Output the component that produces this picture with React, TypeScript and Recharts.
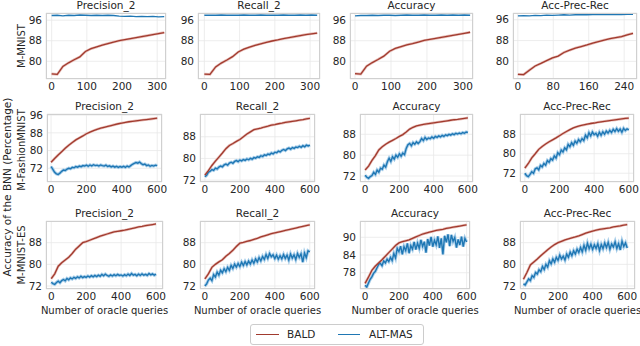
import React from 'react';
import { LineChart, Line, XAxis, YAxis, CartesianGrid } from 'recharts';

const FONT = '"DejaVu Sans", sans-serif';
const RED = '#a13a2e';
const RED_HALO = '#e6bcb6';
const BLUE = '#1f77b4';
const BLUE_HALO = '#aacfea';
const TXT = '#262626';

// ---------- x categories ----------
const X320 = [0, 16, 32, 48, 64, 80, 96, 112, 128, 144, 160, 176, 192, 208, 224, 240, 256, 272, 288, 304, 320];
const X260 = [0, 13, 26, 39, 52, 65, 78, 91, 104, 117, 130, 143, 156, 169, 182, 195, 208, 221, 234, 247, 260];
const X600R = [0, 20, 40, 60, 80, 100, 120, 140, 160, 180, 200, 220, 240, 260, 280, 300, 320, 340, 360, 380, 400, 420, 440, 460, 480, 500, 520, 540, 560, 580, 600];
const X600B = [0, 10, 20, 30, 40, 50, 60, 70, 80, 90, 100, 110, 120, 130, 140, 150, 160, 170, 180, 190, 200, 210, 220, 230, 240, 250, 260, 270, 280, 290, 300, 310, 320, 330, 340, 350, 360, 370, 380, 390, 400, 410, 420, 430, 440, 450, 460, 470, 480, 490, 500, 510, 520, 530, 540, 550, 560, 570, 580, 590, 600];

// ---------- tick labels ----------
const XT_300 = [0, 100, 200, 300];
const XT_240 = [0, 80, 160, 240];
const XT_600 = [0, 200, 400, 600];
const YT_ROW1 = [80, 88, 96];
const YT_FP = [72, 80, 88, 96];
const YT_STD = [72, 80, 88];
const YT_ACC3 = [78, 84, 90];

// ---------- titles ----------
const TITLES = ['Precision_2', 'Recall_2', 'Accuracy', 'Acc-Prec-Rec'];
const ROWS = ['M-MNIST', 'M-FashionMNIST', 'M-MNIST-ES'];
const SERIES = ['BALD', 'ALT-MAS'];

// ---------- Row 1: M-MNIST ----------
const m_prec_bald = [75.1, 74.9, 78.0, 79.4, 80.6, 81.7, 83.8, 84.9, 85.6, 86.3, 86.9, 87.5, 88.0, 88.4, 88.8, 89.2, 89.6, 90.0, 90.4, 90.8, 91.2];
const m_prec_alt = [97.8, 97.9, 97.7, 97.9, 97.8, 98.0, 97.9, 97.8, 97.9, 97.8, 97.9, 97.8, 97.6, 97.5, 97.6, 97.4, 97.5, 97.4, 97.5, 97.3, 97.4];
const m_rec_bald = [75.0, 74.9, 77.8, 79.3, 80.5, 81.8, 83.6, 84.7, 85.5, 86.2, 86.8, 87.4, 87.9, 88.3, 88.8, 89.2, 89.6, 90.0, 90.4, 90.7, 91.0];
const m_rec_alt = [97.9, 97.9, 97.9, 98.0, 97.9, 97.9, 97.9, 98.0, 97.9, 97.9, 98.0, 97.9, 97.9, 97.9, 98.0, 97.9, 97.9, 98.0, 97.9, 98.0, 97.9];
const m_acc_bald = [75.2, 75.0, 78.1, 79.5, 80.7, 82.0, 83.9, 85.0, 85.7, 86.4, 86.9, 87.5, 88.1, 88.5, 88.9, 89.3, 89.7, 90.1, 90.5, 90.9, 91.3];
const m_acc_alt = [97.7, 97.8, 97.8, 97.9, 97.8, 97.9, 97.9, 97.8, 97.9, 98.0, 97.9, 97.9, 98.0, 97.9, 97.9, 98.0, 97.9, 98.0, 97.9, 98.0, 97.9];
const m_apr_bald = [75.0, 74.9, 76.6, 78.2, 79.2, 80.3, 81.3, 82.0, 83.4, 84.3, 85.1, 85.7, 86.3, 87.0, 87.6, 88.2, 88.7, 89.1, 89.5, 90.2, 90.8];
const m_apr_alt = [97.5, 97.6, 97.5, 97.7, 97.6, 97.8, 97.7, 97.8, 97.9, 97.8, 97.9, 98.0, 97.9, 98.0, 98.0, 98.1, 98.0, 98.1, 98.0, 98.1, 98.1];

// ---------- Row 2: M-FashionMNIST ----------
const f_prec_bald = [74.7, 76.4, 78.0, 79.5, 81.0, 82.4, 83.6, 84.8, 85.7, 86.6, 87.6, 88.3, 89.0, 89.6, 90.1, 90.5, 90.9, 91.3, 91.7, 92.1, 92.4, 92.7, 93.0, 93.2, 93.4, 93.6, 93.8, 94.0, 94.2, 94.4, 94.6];
const f_prec_alt = [72.8, 71.5, 70.2, 69.5, 69.2, 69.8, 70.6, 71.2, 71.0, 71.6, 72.0, 71.8, 72.4, 72.2, 72.8, 72.5, 73.0, 72.7, 73.2, 73.0, 73.4, 72.9, 73.5, 73.1, 73.6, 73.2, 73.4, 73.0, 73.5, 73.2, 73.0, 73.4, 72.8, 73.1, 72.6, 73.0, 72.5, 72.9, 72.4, 72.8, 72.5, 72.9, 72.4, 73.0, 72.6, 73.2, 73.8, 74.2, 74.6, 74.3, 74.8, 74.1, 73.6, 73.9, 73.2, 73.5, 72.9, 73.3, 73.0, 73.4, 73.2];
const f_rec_bald = [73.8, 75.5, 77.4, 79.0, 80.5, 82.0, 83.6, 84.8, 85.5, 86.3, 87.0, 88.0, 89.0, 89.8, 90.6, 90.9, 91.2, 91.6, 91.9, 92.3, 92.5, 92.8, 93.0, 93.3, 93.5, 93.7, 93.9, 94.1, 94.3, 94.6, 94.8];
const f_rec_alt = [73.2, 73.8, 74.9, 75.3, 75.9, 75.6, 76.4, 76.1, 76.8, 77.2, 76.9, 77.6, 77.9, 77.5, 78.3, 78.6, 78.2, 78.9, 79.2, 78.8, 79.4, 79.1, 79.6, 79.3, 79.8, 79.5, 80.0, 79.7, 80.3, 80.1, 80.6, 80.4, 81.0, 80.7, 81.3, 81.1, 81.6, 81.4, 82.0, 81.7, 82.3, 82.1, 82.7, 82.4, 83.0, 83.3, 82.9, 83.5, 83.8, 83.4, 84.0, 83.7, 84.2, 84.0, 84.5, 84.1, 84.7, 84.3, 84.9, 84.6, 84.9];
const f_acc_bald = [74.3, 75.8, 78.0, 79.8, 82.0, 83.2, 84.2, 85.0, 85.7, 86.4, 87.2, 87.9, 88.9, 90.0, 90.7, 91.2, 91.5, 91.8, 92.0, 92.2, 92.4, 92.6, 92.8, 93.0, 93.2, 93.4, 93.6, 93.7, 93.9, 94.1, 94.3];
const f_acc_alt = [72.3, 71.5, 71.1, 71.8, 72.2, 73.4, 72.6, 74.3, 73.5, 75.0, 74.6, 76.2, 75.4, 77.5, 78.8, 77.6, 79.4, 78.5, 80.0, 79.2, 80.5, 79.6, 80.8, 80.2, 82.6, 84.0, 84.5, 83.6, 84.8, 84.2, 85.1, 84.5, 85.2, 86.4, 85.6, 86.8, 86.0, 86.6, 86.3, 87.0, 86.5, 87.2, 86.8, 87.4, 87.0, 87.6, 87.2, 87.8, 87.5, 88.0, 87.7, 88.2, 87.9, 88.4, 88.1, 88.5, 88.2, 88.7, 88.4, 88.9, 88.7];
const f_apr_bald = [74.1, 76.0, 78.3, 80.0, 81.8, 83.0, 84.0, 84.9, 85.7, 86.5, 87.4, 88.3, 89.1, 89.9, 90.6, 91.1, 91.5, 91.8, 92.1, 92.4, 92.6, 92.9, 93.1, 93.3, 93.5, 93.7, 93.9, 94.1, 94.3, 94.5, 94.6];
const f_apr_alt = [72.0, 71.0, 70.6, 71.5, 72.6, 72.0, 73.8, 74.2, 73.4, 75.2, 74.6, 76.0, 75.3, 77.2, 76.5, 78.0, 77.4, 79.1, 78.2, 80.4, 79.6, 81.5, 80.7, 82.4, 81.6, 83.8, 82.9, 84.5, 83.5, 85.2, 84.3, 85.8, 84.9, 86.2, 85.4, 87.6, 86.5, 88.6, 87.3, 88.9, 87.8, 88.4, 87.2, 88.8, 87.6, 89.0, 88.0, 89.3, 88.5, 89.6, 88.7, 90.0, 89.1, 90.3, 89.2, 90.1, 88.8, 90.4, 89.5, 90.2, 89.8];

// ---------- Row 3: M-MNIST-ES ----------
const e_prec_bald = [74.7, 76.5, 79.3, 80.6, 81.6, 82.6, 84.0, 85.6, 86.8, 88.0, 88.4, 88.9, 89.4, 89.9, 90.4, 90.8, 91.2, 91.6, 92.0, 92.2, 92.4, 92.6, 92.9, 93.2, 93.5, 93.8, 94.0, 94.3, 94.5, 94.7, 94.9];
const e_prec_alt = [73.4, 72.9, 72.6, 73.3, 73.8, 73.2, 74.0, 74.4, 73.9, 74.8, 74.3, 75.0, 74.6, 75.2, 74.8, 75.4, 75.0, 75.6, 75.1, 75.5, 75.2, 75.7, 75.3, 75.8, 75.4, 75.9, 75.5, 76.0, 75.6, 76.3, 75.8, 76.4, 75.9, 75.6, 76.1, 75.7, 76.2, 75.8, 76.3, 75.9, 76.1, 75.7, 76.2, 75.8, 76.4, 75.9, 76.6, 76.0, 76.3, 75.8, 76.4, 75.9, 76.5, 76.0, 76.3, 75.9, 76.6, 76.1, 76.5, 76.0, 76.4];
const e_rec_bald = [74.6, 76.5, 78.9, 80.0, 80.9, 81.7, 83.0, 84.0, 85.2, 86.6, 87.8, 88.1, 88.5, 88.8, 89.2, 89.6, 90.1, 90.5, 90.9, 91.3, 91.6, 91.9, 92.2, 92.5, 92.8, 93.1, 93.4, 93.7, 94.0, 94.3, 94.6];
const e_rec_alt = [72.0, 72.8, 74.2, 74.9, 74.0, 76.2, 75.3, 77.1, 76.0, 77.8, 76.9, 78.4, 77.3, 78.9, 77.8, 79.6, 78.5, 80.1, 79.0, 80.3, 79.2, 80.8, 79.6, 81.0, 79.8, 81.2, 80.1, 81.6, 80.4, 82.0, 80.9, 82.5, 81.3, 82.9, 81.8, 83.6, 82.2, 84.0, 82.8, 83.5, 82.1, 83.4, 81.9, 83.2, 82.0, 83.6, 82.2, 83.4, 81.6, 83.8, 82.3, 83.5, 81.8, 84.0, 82.6, 83.9, 80.8, 84.2, 82.5, 85.0, 84.6];
const e_acc_bald = [74.4, 76.5, 78.8, 80.2, 81.3, 82.4, 83.6, 84.8, 86.0, 87.2, 88.1, 88.5, 88.8, 89.1, 89.6, 90.1, 90.6, 91.1, 91.4, 91.7, 92.0, 92.3, 92.5, 92.7, 93.0, 93.2, 93.4, 93.6, 93.8, 94.0, 94.2];
const e_acc_alt = [73.8, 73.2, 74.5, 75.8, 76.6, 77.8, 78.4, 79.6, 80.8, 81.2, 80.4, 82.0, 81.3, 82.6, 81.8, 83.2, 82.1, 84.5, 83.0, 86.2, 85.1, 87.0, 84.2, 86.8, 85.5, 87.9, 84.6, 87.2, 86.0, 88.4, 85.8, 88.0, 86.3, 89.1, 86.9, 88.5, 84.8, 89.4, 87.2, 90.1, 86.8, 89.0, 87.5, 90.3, 86.4, 89.6, 84.2, 90.5, 88.3, 91.0, 87.0, 90.8, 88.6, 89.9, 86.5, 89.3, 87.4, 90.2, 86.8, 89.6, 88.4];
const e_apr_bald = [74.5, 77.0, 79.8, 80.9, 82.0, 83.2, 84.3, 85.4, 86.4, 87.3, 88.0, 88.5, 89.0, 89.4, 89.8, 90.1, 90.5, 91.0, 91.5, 91.9, 92.3, 92.6, 92.9, 93.1, 93.3, 93.5, 93.8, 94.0, 94.2, 94.5, 94.7];
const e_apr_alt = [72.8, 72.4, 73.5, 74.6, 74.0, 75.8, 75.2, 77.0, 76.4, 78.0, 77.3, 79.2, 78.1, 80.0, 79.0, 81.3, 80.2, 82.0, 80.8, 82.6, 81.5, 83.4, 82.0, 83.0, 81.6, 83.8, 82.6, 84.5, 83.2, 85.0, 83.8, 85.6, 84.4, 86.2, 84.6, 87.0, 85.2, 87.8, 85.8, 87.4, 85.5, 87.2, 85.9, 87.6, 85.1, 87.3, 85.8, 87.9, 86.2, 88.1, 85.6, 87.5, 86.4, 88.3, 85.9, 87.6, 85.3, 88.5, 86.6, 87.9, 86.0];

type PanelCfg = {
  title: string;
  l: number; t: number; r: number; b: number;
  xDomain: [number, number]; xTicks: number[];
  yDomain: [number, number]; yTicks: number[];
  redX: number[]; red: number[];
  blueX: number[]; blue: number[];
  xlabel?: boolean;
  halo?: boolean;
};

const PANELS: PanelCfg[] = [
  // row 1
  { title: TITLES[0], l: 46, t: 13, r: 166, b: 79, xDomain: [-16, 325], xTicks: XT_300, yDomain: [73.1, 98.8], yTicks: YT_ROW1, redX: X320, red: m_prec_bald, blueX: X320, blue: m_prec_alt },
  { title: TITLES[1], l: 198, t: 13, r: 320, b: 79, xDomain: [-18, 328], xTicks: XT_300, yDomain: [73.1, 98.8], yTicks: YT_ROW1, redX: X320, red: m_rec_bald, blueX: X320, blue: m_rec_alt },
  { title: TITLES[2], l: 350, t: 13, r: 473, b: 79, xDomain: [-14, 328], xTicks: XT_300, yDomain: [73.1, 98.8], yTicks: YT_ROW1, redX: X320, red: m_acc_bald, blueX: X320, blue: m_acc_alt },
  { title: TITLES[3], l: 513, t: 13, r: 637, b: 79, xDomain: [-11, 269], xTicks: XT_240, yDomain: [73.2, 98.6], yTicks: YT_ROW1, redX: X260, red: m_apr_bald, blueX: X260, blue: m_apr_alt },
  // row 2
  { title: TITLES[0], l: 47, t: 114, r: 162, b: 182, xDomain: [-23, 627], xTicks: XT_600, yDomain: [65.8, 96.5], yTicks: YT_FP, redX: X600R, red: f_prec_bald, blueX: X600B, blue: f_prec_alt, halo: true },
  { title: TITLES[1], l: 200, t: 114, r: 315, b: 182, xDomain: [-28, 629], xTicks: XT_600, yDomain: [71.3, 96.4], yTicks: YT_STD, redX: X600R, red: f_rec_bald, blueX: X600B, blue: f_rec_alt, halo: true },
  { title: TITLES[2], l: 360, t: 114, r: 473, b: 182, xDomain: [-30, 630], xTicks: XT_600, yDomain: [69.7, 95.8], yTicks: YT_STD, redX: X600R, red: f_acc_bald, blueX: X600B, blue: f_acc_alt, halo: true },
  { title: TITLES[3], l: 520, t: 114, r: 634, b: 182, xDomain: [-28, 630], xTicks: XT_600, yDomain: [68.4, 96.3], yTicks: YT_STD, redX: X600R, red: f_apr_bald, blueX: X600B, blue: f_apr_alt, halo: true },
  // row 3
  { title: TITLES[0], l: 46, t: 221, r: 163, b: 289, xDomain: [-30, 640], xTicks: XT_600, yDomain: [70.9, 96.0], yTicks: YT_STD, redX: X600R, red: e_prec_bald, blueX: X600B, blue: e_prec_alt, xlabel: true, halo: true },
  { title: TITLES[1], l: 200, t: 221, r: 315, b: 289, xDomain: [-28, 630], xTicks: XT_600, yDomain: [70.9, 96.0], yTicks: YT_STD, redX: X600R, red: e_rec_bald, blueX: X600B, blue: e_rec_alt, xlabel: true, halo: true },
  { title: TITLES[2], l: 360, t: 221, r: 470, b: 289, xDomain: [-30, 620], xTicks: XT_600, yDomain: [72.5, 95.5], yTicks: YT_ACC3, redX: X600R, red: e_acc_bald, blueX: X600B, blue: e_acc_alt, xlabel: true, halo: true },
  { title: TITLES[3], l: 520, t: 221, r: 635, b: 289, xDomain: [-20, 645], xTicks: XT_600, yDomain: [70.9, 96.0], yTicks: YT_STD, redX: X600R, red: e_apr_bald, blueX: X600B, blue: e_apr_alt, xlabel: true, halo: true },
];

const YW = 34;
const TM = 8;
const RM = 14;
const XH = 20;

const tickStyle = { fontSize: 10.5, fill: TXT, fontFamily: FONT };

function Panel({ p }: { p: PanelCfg }) {
  const w = p.r - p.l;
  const h = p.b - p.t;
  const redData = p.redX.map((x, i) => ({ x, y: p.red[i] }));
  const blueData = p.blueX.map((x, i) => ({ x, y: p.blue[i] }));
  return (
    <>
      <div style={{ position: 'absolute', left: p.l - YW, top: p.t - TM }}>
        <LineChart width={w + YW + RM} height={h + TM + XH} margin={{ top: TM, right: RM, bottom: 0, left: 0 }}>
          <CartesianGrid stroke="#e8e8e8" strokeWidth={0.8} />
          <XAxis
            type="number"
            dataKey="x"
            domain={p.xDomain}
            ticks={p.xTicks}
            allowDataOverflow
            interval={0}
            tickLine={false}
            axisLine={false}
            tickSize={2}
            height={XH}
            tick={tickStyle}
          />
          <YAxis
            type="number"
            domain={p.yDomain}
            ticks={p.yTicks}
            allowDataOverflow
            interval={0}
            tickLine={false}
            axisLine={false}
            tickSize={2}
            width={YW}
            tick={tickStyle}
          />
          {p.halo && (
            <Line data={blueData} dataKey="y" stroke={BLUE_HALO} strokeWidth={3.2} dot={false} isAnimationActive={false} />
          )}
          <Line data={redData} dataKey="y" stroke={RED_HALO} strokeWidth={2.6} dot={false} isAnimationActive={false} />
          <Line data={blueData} dataKey="y" stroke={BLUE} strokeWidth={1.4} dot={false} isAnimationActive={false} />
          <Line data={redData} dataKey="y" stroke={RED} strokeWidth={1.3} dot={false} isAnimationActive={false} />
        </LineChart>
      </div>
      <div
        style={{
          position: 'absolute', left: p.l, top: p.t, width: w, height: h,
          border: '1px solid #d0d0d0', boxSizing: 'border-box', pointerEvents: 'none',
        }}
      />
      <div
        style={{
          position: 'absolute', left: p.l, top: p.t - 14, width: w, height: 13,
          textAlign: 'center', fontSize: 10.5, lineHeight: '13px', color: TXT, fontFamily: FONT,
        }}
      >
        {p.title}
      </div>
      {p.xlabel && (
        <div
          style={{
            position: 'absolute', left: (p.l + p.r) / 2 - 80, top: p.b + 16, width: 160,
            textAlign: 'center', fontSize: 10, lineHeight: '12px', color: TXT, fontFamily: FONT,
          }}
        >
          Number of oracle queries
        </div>
      )}
    </>
  );
}

function VLabel({ text, cx, cy, size }: { text: string; cx: number; cy: number; size: number }) {
  return (
    <div
      style={{
        position: 'absolute', left: cx, top: cy, whiteSpace: 'nowrap',
        transform: 'translate(-50%, -50%) rotate(-90deg)',
        fontSize: size, lineHeight: `${size + 2}px`, color: TXT, fontFamily: FONT,
      }}
    >
      {text}
    </div>
  );
}

export default function App() {
  return (
    <div style={{ position: 'absolute', left: 0, top: 0, width: 640, height: 346, background: '#fff', overflow: 'hidden', fontFamily: FONT }}>
      {PANELS.map((p, i) => (
        <Panel key={i} p={p} />
      ))}
      <VLabel text="Accuracy of the BNN (Percentage)" cx={7} cy={187} size={10.5} />
      <VLabel text={ROWS[0]} cx={22} cy={46} size={10} />
      <VLabel text={ROWS[1]} cx={22} cy={150} size={10} />
      <VLabel text={ROWS[2]} cx={22} cy={255} size={10} />
      <div
        style={{
          position: 'absolute', left: 250, top: 324, width: 174, height: 21,
          border: '1px solid #cccccc', borderRadius: 3, boxSizing: 'border-box', background: '#fff',
        }}
      >
        <div style={{ position: 'absolute', left: 5, top: 9, width: 23, height: 0, borderTop: `1.5px solid ${RED}` }} />
        <div style={{ position: 'absolute', left: 36, top: 3, fontSize: 10.5, lineHeight: '13px', color: TXT }}>{SERIES[0]}</div>
        <div style={{ position: 'absolute', left: 87, top: 9, width: 22, height: 0, borderTop: `1.5px solid ${BLUE}` }} />
        <div style={{ position: 'absolute', left: 118, top: 3, fontSize: 10.5, lineHeight: '13px', color: TXT }}>{SERIES[1]}</div>
      </div>
    </div>
  );
}
